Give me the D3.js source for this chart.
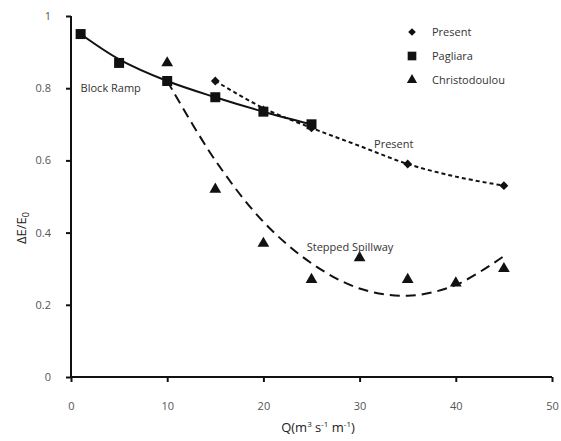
<!DOCTYPE html>
<html>
<head>
<meta charset="utf-8">
<script src="https://cdn.jsdelivr.net/npm/d3@7"></script>
<style>
  body { margin: 0; background: #fff; }
  text { font-family: "Open Sans", "DejaVu Sans", sans-serif; fill: #333; }
</style>
</head>
<body>
<svg id="chart"></svg>
<script>
// measured points
const presentQ = [15, 20, 25, 35, 45];
const presentE = [0.82, 0.74, 0.69, 0.59, 0.53];
const pagliaraQ = [1, 5, 10, 15, 20, 25];
const pagliaraE = [0.95, 0.87, 0.82, 0.775, 0.735, 0.70];
const christoQ = [10, 15, 20, 25, 30, 35, 40, 45];
const christoE = [0.87, 0.52, 0.37, 0.27, 0.33, 0.27, 0.26, 0.30];

// trend lines
const rampQ = [1, 5, 10, 15, 20, 25];
const rampE = [0.95, 0.88, 0.82, 0.775, 0.735, 0.70];
const presentFitQ = [15, 20, 25, 30, 35, 40, 45];
const presentFitE = [0.82, 0.745, 0.69, 0.64, 0.59, 0.555, 0.53];
const steppedQ = [10, 15, 20, 25, 30, 35, 40, 45];
const steppedE = [0.82, 0.60, 0.43, 0.315, 0.245, 0.225, 0.255, 0.335];

const xTicks = [0, 10, 20, 30, 40, 50];
const yTicks = [0, 0.2, 0.4, 0.6, 0.8, 1];
const legendNames = ["Present", "Pagliara", "Christodoulou"];

const width = 561, height = 441;
const svg = d3.select("#chart").attr("width", width).attr("height", height);

const x = d3.scaleLinear().domain([0, 50]).range([71, 552]);
const y = d3.scaleLinear().domain([0, 1]).range([377, 16]);

// axes
svg.append("g")
    .attr("transform", `translate(0,${y(0)})`)
    .call(d3.axisBottom(x).tickValues(xTicks).tickSize(5).tickPadding(20).tickFormat(d3.format("d")))
    .call(g => g.select(".domain").attr("stroke", "#111").attr("stroke-width", 2).attr("d", `M${x(0)},0H${x(50)}`))
    .call(g => g.selectAll(".tick line").attr("stroke", "#111").attr("stroke-width", 2))
    .call(g => g.selectAll("text").attr("font-size", 11).style("fill", "#555"));

svg.append("g")
    .attr("transform", `translate(${x(0)},0)`)
    .call(d3.axisLeft(y).tickValues(yTicks).tickSize(5).tickPadding(15).tickFormat(d => d === 0 || d === 1 ? d : d.toFixed(1)))
    .call(g => g.select(".domain").attr("stroke", "#111").attr("stroke-width", 2).attr("d", `M0,${y(0)}V${y(1)}`))
    .call(g => g.selectAll(".tick line").attr("stroke", "#111").attr("stroke-width", 2))
    .call(g => g.selectAll("text").attr("font-size", 11).style("fill", "#555"));

// axis titles
svg.append("text")
    .attr("transform", `translate(26,228) rotate(-90)`)
    .attr("text-anchor", "middle")
    .attr("font-size", 13)
    .style("fill", "#222")
    .html("&#916;E/E<tspan font-size='9' dy='3'>0</tspan>");

svg.append("text")
    .attr("x", 318).attr("y", 432)
    .attr("text-anchor", "middle")
    .attr("font-size", 13)
    .style("fill", "#222")
    .html("Q(m<tspan font-size='8' dy='-5'>3</tspan><tspan dy='5'> s</tspan><tspan font-size='8' dy='-5'>-1</tspan><tspan dy='5'> m</tspan><tspan font-size='8' dy='-5'>-1</tspan><tspan dy='5'>)</tspan>");

// trend lines
const line = d3.line().x(d => x(d[0])).y(d => y(d[1])).curve(d3.curveCatmullRom);

svg.append("path")
    .datum(d3.zip(rampQ, rampE))
    .attr("d", line).attr("fill", "none")
    .attr("stroke", "#111").attr("stroke-width", 2);

svg.append("path")
    .datum(d3.zip(presentFitQ, presentFitE))
    .attr("d", line).attr("fill", "none")
    .attr("stroke", "#111").attr("stroke-width", 2)
    .attr("stroke-dasharray", "4,3");

svg.append("path")
    .datum(d3.zip(steppedQ, steppedE))
    .attr("d", line).attr("fill", "none")
    .attr("stroke", "#111").attr("stroke-width", 2)
    .attr("stroke-dasharray", "10,6");

// markers
const shapes = {
    diamond: { type: d3.symbolDiamond2, size: 50 },
    square: { type: d3.symbolSquare, size: 100 },
    triangle: { type: d3.symbolTriangle, size: 60 }
};

function symbolPath(shape, scale) {
    return d3.symbol().type(shapes[shape].type).size(shapes[shape].size * scale)();
}

function drawPoints(qs, es, shape) {
    svg.append("g").selectAll("path")
        .data(d3.zip(qs, es))
        .join("path")
        .attr("transform", d => `translate(${x(d[0])},${y(d[1])})`)
        .attr("d", symbolPath(shape, 1))
        .attr("fill", "#111");
}

drawPoints(pagliaraQ, pagliaraE, "square");
drawPoints(presentQ, presentE, "diamond");
drawPoints(christoQ, christoE, "triangle");

// curve labels
svg.append("text").attr("x", x(1)).attr("y", y(0.8) + 4).attr("font-size", 11).text("Block Ramp");
svg.append("text").attr("x", x(31.5)).attr("y", y(0.635)).attr("font-size", 11).text("Present");
svg.append("text").attr("x", x(24.5)).attr("y", y(0.35)).attr("font-size", 11).text("Stepped Spillway");

// legend
const legendShapes = ["diamond", "square", "triangle"];
const legend = svg.append("g");
legendNames.forEach((name, i) => {
    const ly = 32 + i * 24;
    legend.append("path")
        .attr("transform", `translate(412,${ly})`)
        .attr("d", symbolPath(legendShapes[i], 0.75))
        .attr("fill", "#111");
    legend.append("text")
        .attr("x", 432).attr("y", ly + 4)
        .attr("font-size", 11)
        .text(name);
});
</script>
</body>
</html>
